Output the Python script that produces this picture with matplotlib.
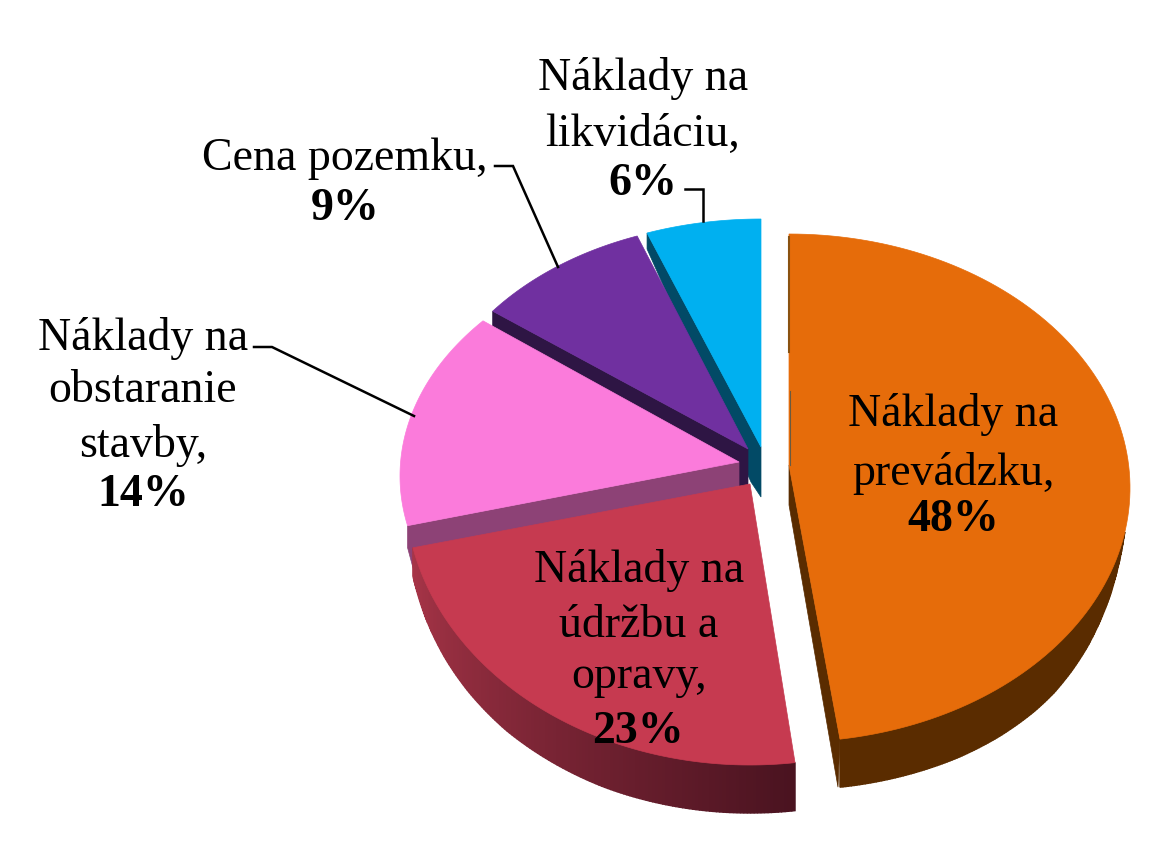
import numpy as np
import matplotlib
matplotlib.use("Agg")
import matplotlib.pyplot as plt
from matplotlib.colors import to_rgb

plt.rcParams['font.family'] = ['Liberation Serif', 'DejaVu Serif']

# shares, clockwise from 12 o'clock
names = ['prevadzka', 'udrzba', 'obstaranie', 'pozemok', 'likvidacia']
values = [48, 23, 14, 9, 6]
top_colors = ['#E66C0A', '#C63A50', '#FB7BDB', '#7030A0', '#00B0F0']

# every slice is pulled out on its own and the perspective differs a bit
centers = [(789, 489), (750, 490), (740, 477), (748, 455), (761, 448)]
radii = [(341, 254), (345, 276), (340, 237), (324, 232), (330, 228)]
apexes = [(789, 466), (750, 485), (739, 463), (748, 450), (761, 448)]
nudge_start = [0, -0.3, 2.3, 2.0, 1.4]
nudge_end = [-1.4, 2.1, 4.9, 1.6, 0]

# rim height along the arc, it runs out towards the sides of the pie
orange_rim_t = [100, 104, 109, 114, 119, 124, 129, 134, 142, 150, 172]
orange_rim_h = [0, 10, 21, 29, 36, 41, 45, 47, 48.5, 49, 48]
red_rim_t = [172, 205, 215, 225, 235, 242, 250, 258]
red_rim_h = [48, 48, 47, 46, 43, 40, 35, 28]

font_size = 33

label_lines = [
    ('Náklady na', 953, 426, 'normal'), ('prevádzku,', 953, 485, 'normal'), ('48%', 953, 531, 'bold'),
    ('Náklady na', 639, 582, 'normal'), ('údržbu a', 639, 637, 'normal'), ('opravy,', 639, 688, 'normal'), ('23%', 638, 743, 'bold'),
    ('Náklady na', 143, 350, 'normal'), ('obstaranie', 143, 402, 'normal'), ('stavby,', 143, 457, 'normal'), ('14%', 143, 506, 'bold'),
    ('Cena pozemku,', 345, 170, 'normal'), ('9%', 345, 220, 'bold'),
    ('Náklady na', 643, 90, 'normal'), ('likvidáciu,', 643, 146, 'normal'), ('6%', 643, 195, 'bold'),
]
leaders = [
    ([414, 272, 254], [417, 348, 348]),
    ([558, 513, 495], [268, 167, 167]),
    ([703, 703, 685], [222, 190, 190]),
]


def arc(i, t0, t1, n=120):
    t = np.radians(np.linspace(t0, t1, n))
    x = centers[i][0] + radii[i][0] * np.sin(t)
    y = centers[i][1] - radii[i][1] * np.cos(t)
    return x, y


def side(ax, i, t0, t1, c0, c1, rim_t, rim_h, n=150):
    # outer rim, drawn as thin strips so that the shade can change along it
    x, y = arc(i, t0, t1, n + 1)
    h = np.interp(np.linspace(t0, t1, n + 1), rim_t, rim_h)
    c0, c1 = np.array(to_rgb(c0)), np.array(to_rgb(c1))
    for k in range(n):
        c = c0 + (c1 - c0) * k / (n - 1)
        ax.fill([x[k], x[k + 1], x[k + 1], x[k]],
                [y[k], y[k + 1], y[k + 1] + h[k + 1], y[k] + h[k]],
                color=c, lw=1.0)


fig = plt.figure(figsize=(11.49, 8.62), dpi=100)
ax = fig.add_axes([0, 0, 1, 1])
ax.set_xlim(0, 1149)
ax.set_ylim(862, 0)
ax.axis('off')

ends = np.cumsum(values) * 3.6
starts = ends - np.array(values) * 3.6
t0 = starts + np.array(nudge_start)
t1 = ends + np.array(nudge_end)
pts0 = [arc(i, t0[i], t0[i], 1) for i in range(5)]
pts1 = [arc(i, t1[i], t1[i], 1) for i in range(5)]


def wedge(ax, i):
    x, y = arc(i, t0[i], t1[i])
    ax.fill(np.r_[apexes[i][0], x], np.r_[apexes[i][1], y], color=top_colors[i], lw=0.5)


# orange slice: rim, thin wall on the left, then the top
side(ax, 0, 100, t1[0], '#5A2C00', '#5A2C00', orange_rim_t, orange_rim_h)
ax.fill([apexes[0][0], pts1[0][0][0], pts1[0][0][0] - 2, apexes[0][0]],
        [apexes[0][1], pts1[0][1][0], pts1[0][1][0] + 48, apexes[0][1] + 40],
        color='#5A2C00', lw=0.5)
ax.plot([789, 789], [238, 353], color='#8A5210', lw=1.5)
ax.plot([790, 790], [392, 466], color='#6A5A40', lw=0.8)
wedge(ax, 0)

# blue wall and top
ax.fill([pts0[4][0][0], apexes[4][0], apexes[4][0], 751, pts0[4][0][0]],
        [pts0[4][1][0], apexes[4][1], apexes[4][1] + 50, 483, pts0[4][1][0] + 16],
        color='#024A66', lw=0.5)
wedge(ax, 4)

# purple wall and top
ax.fill([pts0[3][0][0], apexes[3][0], apexes[3][0], 739, pts0[3][0][0]],
        [pts0[3][1][0], apexes[3][1], apexes[3][1] + 37, 487, pts0[3][1][0] + 16],
        color='#2E1544', lw=0.5)
wedge(ax, 3)

# pink wall and top
ax.fill([pts0[2][0][0], apexes[2][0], apexes[2][0], 416, pts0[2][0][0]],
        [pts0[2][1][0], apexes[2][1], apexes[2][1] + 24, 580, pts0[2][1][0] + 22],
        color='#8D4276', lw=0.5)
wedge(ax, 2)

# red slice
side(ax, 1, t1[1], t0[1], '#A83548', '#4A1320', red_rim_t, red_rim_h)
wedge(ax, 1)

for lx, ly in leaders:
    ax.plot(lx, ly, color='black', lw=1.8, solid_joinstyle='miter')

for txt, x, y, weight in label_lines:
    ax.text(x, y, txt, ha='center', va='baseline', size=font_size, weight=weight, color='black')

fig.savefig('out.png', dpi=100)
